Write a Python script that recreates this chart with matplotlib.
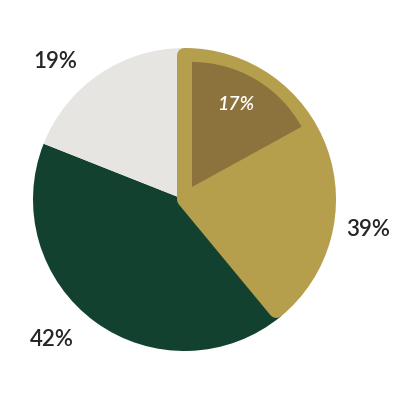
import matplotlib
matplotlib.use("Agg")
import matplotlib.pyplot as plt

# Data
categories = ["Gold", "Green", "Grey"]
values = [39, 42, 19]
inner_value = 0.17
labels = ["39%", "42%", "19%"]
inner_label = "17%"

gold = "#B59E4C"
dark_gold = "#8C733D"
green = "#12422F"
grey = "#E6E5E1"
text_col = "#262626"

plt.rcParams['font.family'] = ['Lato', 'DejaVu Sans']

W, H = 410, 400
cx, cy, R = 184.5, 199.5, 151.5

def to_data(px, py):
    return ((px - cx) / R, (cy - py) / R)

fig = plt.figure(figsize=(W / 100, H / 100), dpi=100)
ax = fig.add_axes([0, 0, 1, 1])

wedges, _ = ax.pie(values, colors=[gold, green, grey], startangle=90,
                   counterclock=False, radius=1.0,
                   wedgeprops=dict(linewidth=0))
stroke_px = 15
wedges[0].set_radius(1 - (stroke_px / 2) / R)
wedges[0].set_edgecolor(gold)
wedges[0].set_linewidth(stroke_px * 0.72)
wedges[0].set_joinstyle('round')
wedges[0].set_zorder(3)

inner, _ = ax.pie([inner_value], normalize=False, colors=[dark_gold], startangle=90,
                  counterclock=False, radius=125 / R,
                  center=(7.5 / R, 12.5 / R), wedgeprops=dict(linewidth=0))
for w in inner:
    w.set_zorder(4)

label_pos = {"39%": (368, 230), "42%": (52, 340), "19%": (55, 62)}
for lab in labels:
    x, y = to_data(*label_pos[lab])
    ax.text(x, y, lab, ha='center', va='center', fontsize=16, color=text_col,
            fontweight='semibold', zorder=5)

x, y = to_data(236, 105)
ax.text(x, y, inner_label, ha='center', va='center', fontsize=14, color='white',
        style='italic', fontweight='semibold', zorder=5)

ax.set_xlim(-cx / R, (W - cx) / R)
ax.set_ylim(-(H - cy) / R, cy / R)
ax.set_aspect('auto')
ax.axis('off')

fig.savefig("out.png", dpi=100, facecolor='white')
